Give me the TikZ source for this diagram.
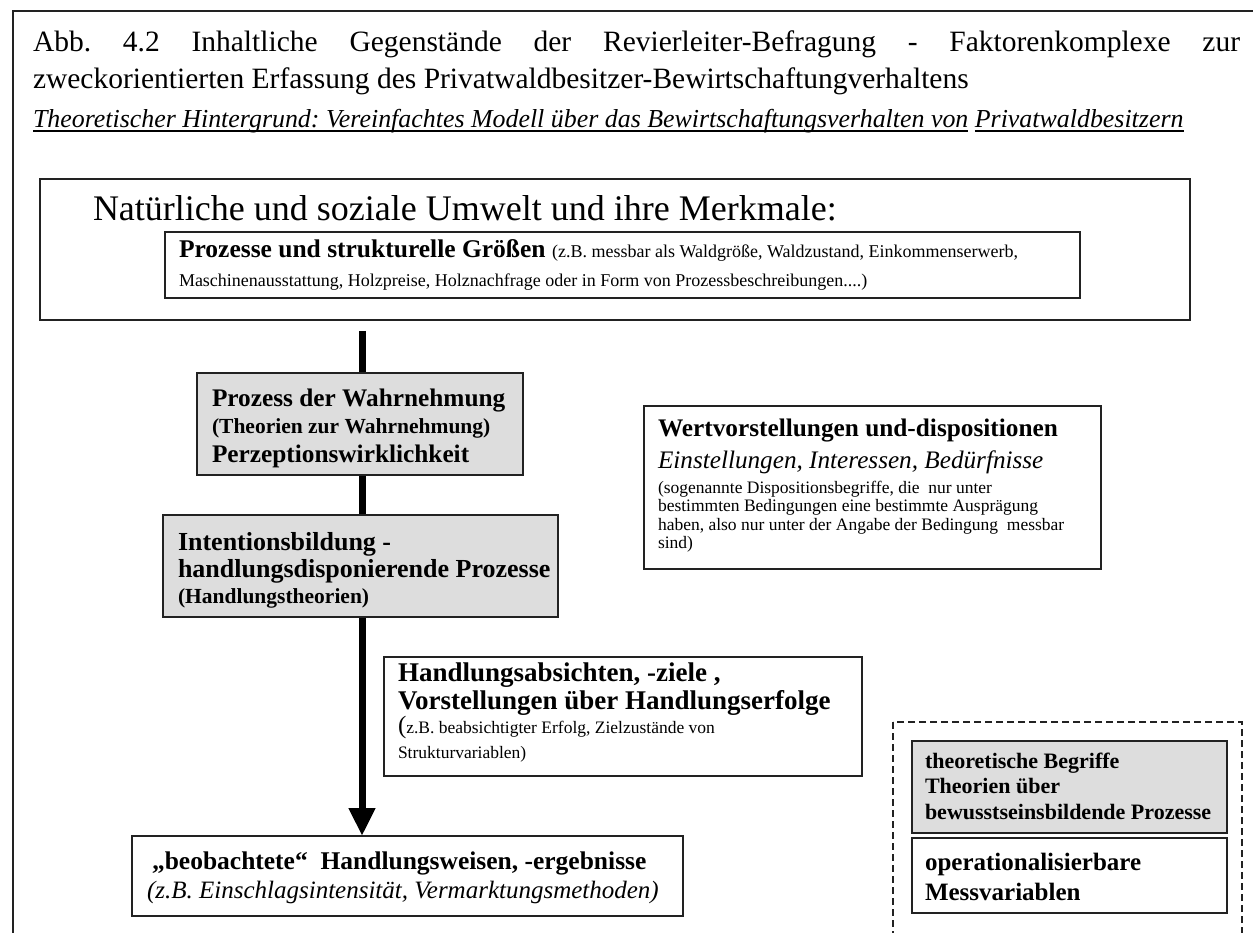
\documentclass[tikz,border=0pt]{standalone}
\usepackage{fontspec}
\setmainfont{Liberation Serif}
\usetikzlibrary{arrows.meta}
\frenchspacing
% font size shortcut and a block of lines with given baseline distances
\newcommand\fsz[2]{\fontsize{#1}{#2}\selectfont}
\newcommand\Ln[2]{\baselineskip=#1pt\relax\hbox{#2}}
\newcommand\Blk[1]{\vtop{\lineskiplimit=-1000pt\lineskip=0pt #1}}
\definecolor{boxgray}{HTML}{DDDDDD}
\definecolor{edge}{HTML}{222222}
\tikzset{
  frame/.style={draw=edge, line width=2pt},
  box/.style={draw=edge, line width=2pt, fill=white, anchor=north west,
    inner sep=0pt, outer sep=0pt},
  graybox/.style={box, fill=boxgray},
  txt/.style={anchor=base west, inner sep=0pt, outer sep=0pt},
  flow/.style={draw=black, line width=7pt, -{Triangle[width=25pt,length=28pt]}},
  dashbox/.style={draw=edge, line width=2pt, dash pattern=on 7pt off 4pt},
  uline/.style={draw=black, line width=1.2pt},
}
\begin{document}
\begin{tikzpicture}[x=1pt,y=-1pt]
\useasboundingbox (0,0) rectangle (1253,933);
\fill[white] (0,0) rectangle (1253,933);

% page frame and the dashed legend frame, both running off the page
\begin{scope}
  \clip (0,0) rectangle (1253,933);
  \draw[frame] (13,11) rectangle (1300,1000);
  \draw[dashbox] (893,722) rectangle (1242,1000);
\end{scope}

% heading
\node[txt] (title1) at (33,52) {\fsz{29.5}{37}\makebox[1207pt][s]{Abb. 4.2 Inhaltliche Gegenstände der Revierleiter-Befragung - Faktorenkomplexe zur}};
\node[txt] (title2) at (33,89) {\fsz{29.5}{37}zweckorientierten Erfassung des Privatwaldbesitzer-Bewirtschaftungverhaltens};
\node[txt] (subA) at (33,128) {\fsz{25.9}{30}\itshape Theoretischer Hintergrund: Vereinfachtes Modell über das Bewirtschaftungsverhalten von};
\node[txt] (subB) at ([xshift=6.5pt]subA.base east) {\fsz{25.9}{30}\itshape Privatwaldbesitzern};
\draw[uline] ([yshift=-3pt]subA.base west) -- ([yshift=-3pt]subA.base east);
\draw[uline] ([yshift=-3pt]subB.base west) -- ([yshift=-3pt]subB.base east);

% environment
\node[box, minimum width=1150pt, minimum height=141pt] (umwelt) at (40,179) {};
\node[txt] (umweltT) at (93,221) {\fsz{36}{40}Natürliche und soziale Umwelt und ihre Merkmale:};
\node[box, minimum width=915pt, minimum height=66pt] (struk) at (165,232) {};
\node[txt] (strukT) at (179,258) {\Blk{%
  \Ln{0}{\fsz{25.5}{30}\bfseries Prozesse und strukturelle Größen \fsz{18}{21}\mdseries (z.B. messbar als Waldgröße, Waldzustand, Einkommenserwerb,}%
  \Ln{29}{\fsz{18}{21}Maschinenausstattung, Holzpreise, Holznachfrage oder in Form von Prozessbeschreibungen....)}}};

% observed behaviour
\node[box, minimum width=551pt, minimum height=80pt] (beob) at (132,836) {};
\node[txt] (beobT) at (147,869) {\Blk{%
  \Ln{0}{\kern5pt\bfseries\fsz{25.5}{30}„beobachtete“\ \ Handlungsweisen, -ergebnisse}%
  \Ln{29}{\itshape\fsz{25}{30}(z.B. Einschlagsintensität, Vermarktungsmethoden)}}};

% main flow
\coordinate (flowtop) at (362,331);
\draw[flow] (flowtop) -- (flowtop |- beob.north);

% process boxes on the flow
\node[graybox, minimum width=326pt, minimum height=102pt] (wahr) at (197,373) {};
\node[txt] (wahrT) at (212,406) {\Blk{%
  \Ln{0}{\fsz{25.3}{30}\bfseries Prozess der Wahrnehmung}%
  \Ln{27}{\fsz{21.5}{25}\bfseries (Theorien zur Wahrnehmung)}%
  \Ln{29}{\fsz{25.3}{30}\bfseries Perzeptionswirklichkeit}}};

\node[graybox, minimum width=395pt, minimum height=102pt] (intent) at (163,515) {};
\node[txt] (intentT) at (178,550) {\Blk{%
  \Ln{0}{\fsz{26}{30}\bfseries Intentionsbildung -}%
  \Ln{27}{\fsz{26}{30}\bfseries handlungsdisponierende Prozesse}%
  \Ln{26}{\fsz{21.5}{25}\bfseries (Handlungstheorien)}}};

% dispositions
\node[box, minimum width=457pt, minimum height=163pt] (wert) at (644,406) {};
\node[txt] (wertT) at (658,436) {\Blk{%
  \Ln{0}{\bfseries\fsz{25.3}{30}Wertvorstellungen und-dispositionen}%
  \Ln{32}{\itshape\fsz{25.2}{30}Einstellungen, Interessen, Bedürfnisse}%
  \Ln{25}{\fsz{17.5}{21}(sogenannte Dispositionsbegriffe, die\ \ nur unter}%
  \Ln{18.8}{\fsz{17.5}{21}bestimmten Bedingungen eine bestimmte Ausprägung}%
  \Ln{18.8}{\fsz{17.5}{21}haben, also nur unter der Angabe der Bedingung\ \ messbar}%
  \Ln{17.8}{\fsz{17.5}{21}sind)}}};

% intentions
\node[box, minimum width=478pt, minimum height=119pt] (absicht) at (384,657) {};
\node[txt] (absichtT) at (398,681) {\Blk{%
  \Ln{0}{\bfseries\fsz{27}{30}Handlungsabsichten, -ziele ,}%
  \Ln{28}{\bfseries\fsz{27}{30}Vorstellungen über Handlungserfolge}%
  \Ln{24}{{\fsz{25}{30}(}\fsz{17.5}{21}z.B. beabsichtigter Erfolg, Zielzustände von}%
  \Ln{25}{\fsz{17.5}{21}Strukturvariablen)}}};

% legend
\node[graybox, minimum width=315pt, minimum height=92pt] (theo) at (912,741) {};
\node[txt] (theoT) at (925,768) {\Blk{%
  \Ln{0}{\bfseries\fsz{22}{26}theoretische Begriffe}%
  \Ln{25}{\bfseries\fsz{22}{26}Theorien über}%
  \Ln{26}{\bfseries\fsz{22}{26}bewusstseinsbildende Prozesse}}};
\node[box, minimum width=315pt, minimum height=75pt] (mess) at (912,838) {};
\node[txt] (messT) at (925,870) {\Blk{%
  \Ln{0}{\bfseries\fsz{25}{28}operationalisierbare}%
  \Ln{30}{\bfseries\fsz{25}{28}Messvariablen}}};
\end{tikzpicture}
\end{document}
